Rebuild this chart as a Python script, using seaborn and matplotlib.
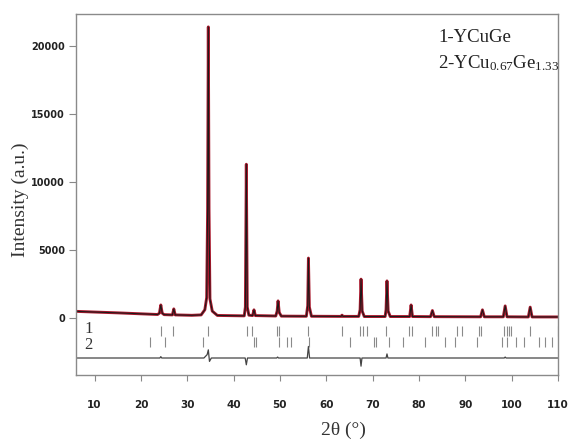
#!/usr/bin/env python3
"""
Patrón de difracción (Rietveld) YCuGe / YCu0.67Ge1.33
"""

import numpy as np
import matplotlib
matplotlib.use("Agg")
import matplotlib.pyplot as plt
import seaborn as sns

obs_x = [6.0, 10, 15, 20, 23.6, 24.0, 24.3, 24.6, 25.0, 26.8, 27.1, 27.4, 31, 33.0,
         33.8, 34.2, 34.4, 34.55, 34.7, 34.9, 35.4, 36.5, 42.3, 42.55, 42.75, 42.95,
         43.3, 44.1, 44.4, 44.7, 49.1, 49.4, 49.6, 49.85, 50.3, 55.7, 56.0, 56.15,
         56.35, 56.8, 63.2, 63.4, 63.6, 67.0, 67.3, 67.5, 67.75, 68.2, 72.7, 72.9,
         73.1, 73.35, 73.8, 78.0, 78.3, 78.6, 82.5, 82.9, 83.3, 93.3, 93.7, 94.1,
         98.2, 98.6, 99.0, 103.6, 104.0, 104.4, 110]
obs_y = [480, 430, 370, 300, 250, 350, 950, 350, 240, 220, 660, 220, 190, 220,
         600, 1500, 8000, 21400, 8000, 1400, 500, 180, 150, 800, 11300, 800,
         200, 170, 590, 170, 140, 500, 1250, 400, 130, 120, 900, 4400,
         800, 120, 110, 200, 110, 110, 600, 2850, 500, 100, 100, 600,
         2720, 500, 100, 100, 950, 100, 90, 540, 90, 80, 590, 80,
         80, 880, 80, 70, 790, 70, 70]

# Curva diferencia (desplazada)
diff_x = [6, 24.1, 24.3, 24.5, 33.6, 34.3, 34.55, 34.8, 35.2, 42.5, 42.75, 43.0,
          49.3, 49.5, 49.7, 55.9, 56.15, 56.4, 67.3, 67.5, 67.7, 72.9, 73.1, 73.3,
          98.4, 98.6, 98.8, 110]
diff_y = [-2950, -2950, -2850, -2950, -2950, -2700, -2350, -3200, -2950, -2950, -3450, -2950,
          -2950, -2880, -2950, -2950, -2100, -2950, -2950, -3550, -2950, -2950, -2650, -2950,
          -2950, -2880, -2950, -2950]

# Posiciones de Bragg
bragg1 = [24.3, 27.0, 34.5, 42.8, 44.0, 49.4, 49.7, 56.1, 63.4, 67.3, 67.9, 68.8,
          72.8, 77.9, 78.6, 82.9, 83.6, 84.2, 88.3, 89.2, 93.0, 93.3, 98.4, 98.9,
          99.4, 99.9, 104.0, 110.0]
bragg2 = [22.0, 25.1, 33.5, 44.3, 44.9, 49.8, 51.6, 52.4, 56.2, 65.2, 70.2, 70.8,
          73.6, 76.5, 81.3, 85.6, 87.8, 92.6, 98.0, 98.9, 101.0, 102.7, 105.8,
          107.1, 108.6]

x_ticks = [10, 20, 30, 40, 50, 60, 70, 80, 90, 100, 110]
y_ticks = [0, 5000, 10000, 15000, 20000]

sns.set_style("ticks")
plt.rcParams['font.family'] = ['DejaVu Sans']
plt.rcParams['mathtext.fontset'] = 'custom'
plt.rcParams['mathtext.rm'] = 'Liberation Serif'
plt.rcParams['mathtext.default'] = 'regular'

fig = plt.figure(figsize=(5.69, 4.44), dpi=100)
ax = fig.add_axes([76 / 569, 1 - 375 / 444, 482 / 569, 361 / 444])

# Calculado (rojo) y observado (negro)
sns.lineplot(x=obs_x, y=obs_y, ax=ax, color='#a8182c', lw=2.1, sort=False, estimator=None)
sns.lineplot(x=obs_x, y=obs_y, ax=ax, color='#1a1a1a', lw=0.75, sort=False, estimator=None)
sns.lineplot(x=diff_x, y=diff_y, ax=ax, color='#444444', lw=0.9, sort=False, estimator=None)

ax.vlines(bragg1, -1350, -580, color='#8a8a8a', lw=0.8)
ax.vlines(bragg2, -2150, -1420, color='#8a8a8a', lw=0.8)

serif = 'Liberation Serif'
ax.text(8.7, -840, '1', fontsize=12, family=serif, ha='center', va='center', color='#333333')
ax.text(8.7, -2000, '2', fontsize=12, family=serif, ha='center', va='center', color='#333333')

ax.text(0.752, 0.935, '1-YCuGe', transform=ax.transAxes, fontsize=13.5, family=serif,
        ha='left', va='center', color='#222222')
ax.text(0.752, 0.865, '2-YCu$_{0.67}$Ge$_{1.33}$', transform=ax.transAxes, fontsize=13.5,
        family=serif, ha='left', va='center', color='#222222')

ax.set_xlim(6.0, 109.6)
ax.set_ylim(-4200, 22350)
ax.set_xticks(x_ticks)
ax.set_yticks(y_ticks)
ax.set_xticklabels([str(v) for v in x_ticks], fontsize=7.5, fontweight='bold', color='#222222')
ax.set_yticklabels([str(v) for v in y_ticks], fontsize=7, fontweight='bold', color='#222222')
ax.tick_params(axis='x', direction='out', length=4, width=0.8, color='#888888', pad=14)
ax.tick_params(axis='y', direction='out', length=5, width=0.8, color='#888888', pad=3)

for s in ax.spines.values():
    s.set_color('#8a8a8a')
    s.set_linewidth(1.0)
    s.set_visible(True)

ax.set_xlabel('')
ax.set_ylabel('')
fig.text(20 / 569, 1 - 200 / 444, 'Intensity (a.u.)', rotation=90, fontsize=14, family=serif,
         ha='center', va='center', color='#333333')
fig.text(343 / 569, 1 - 430 / 444, '2θ (°)', fontsize=14, family=serif,
         ha='center', va='center', color='#333333')

fig.savefig('out.png', dpi=100)
